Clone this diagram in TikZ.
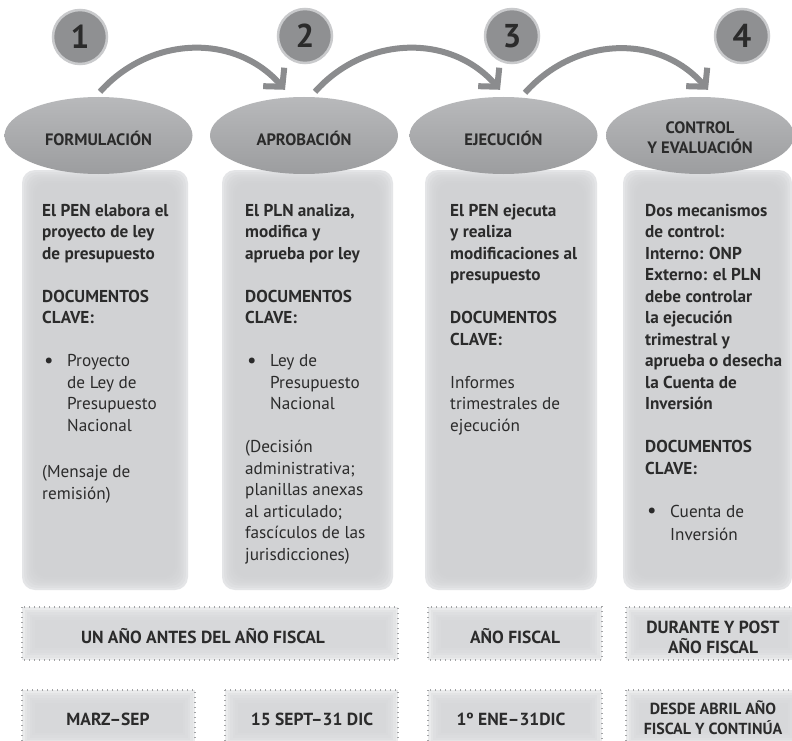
\documentclass[tikz,border=0pt]{standalone}
\usepackage{fontspec}
\setmainfont{PT Sans}
\usetikzlibrary{shapes.geometric,arrows.meta,calc}
\definecolor{txt}{HTML}{2B2B2B}
\definecolor{circfill}{HTML}{8F9092}
\definecolor{circline}{HTML}{C9CACC}
\definecolor{elltop}{HTML}{B8B9BB}
\definecolor{ellbot}{HTML}{9C9D9F}
\definecolor{arrowc}{HTML}{8B8C8E}
\definecolor{boxedge}{HTML}{E4E5E7}
\definecolor{boxcore}{HTML}{CFD0D2}
\definecolor{tagedge}{HTML}{EAEBEC}
\definecolor{tagcore}{HTML}{D5D6D8}
\definecolor{dotc}{HTML}{A3A4A6}

\newcommand\softrect[6]{% x1 y1 x2 y2 edge core
  \fill[#5,rounded corners=13pt] (#1,#2) rectangle (#3,#4);
  \foreach \k in {1,...,6}{\fill[#6,opacity=0.28,rounded corners=12pt] ({#1+2.2*\k},{#2+2.2*\k}) rectangle ({#3-2.2*\k},{#4-2.2*\k});}
}
\newcommand\softtag[4]{% x1 y1 x2 y2
  \fill[tagedge] (#1,#2) rectangle (#3,#4);
  \foreach \k in {1,...,5}{\fill[tagcore,opacity=0.3] ({#1+2.5*\k},{#2+2.5*\k}) rectangle ({#3-2.5*\k},{#4-2.5*\k});}
  \draw[dotc,line width=1.2pt,dash pattern=on 1.2pt off 3.8pt] (#1,#2) rectangle (#3,#4);
}
\newcommand\bul{\makebox[25pt][l]{\hspace{2pt}{\fontsize{21}{21}\selectfont\raisebox{-0.6pt}{\textbullet}}}}
\newcommand\ind{\hspace*{25pt}}

\tikzset{
  boxtext/.style={anchor=base west, inner sep=0pt, text=txt, font=\fontsize{17.2}{21.5}\selectfont},
  num/.style={circle, minimum size=54pt, inner sep=0pt, fill=circfill, draw=circline, line width=2.5pt, text=txt, font=\fontsize{33}{33}\selectfont\bfseries},
  phase/.style={ellipse, minimum width=188pt, minimum height=77pt, inner sep=0pt, top color=elltop, bottom color=ellbot},
  phasetext/.style={text=txt, font=\fontsize{16.5}{20}\selectfont\bfseries, align=center, inner sep=0pt},
  flow/.style={draw=arrowc, line width=6pt, -{Straight Barb[length=13pt,width=28pt]}},
  tagtext/.style={text=txt, font=\fontsize{17.5}{20}\selectfont\bfseries, align=center, inner sep=0pt},
  tagsmall/.style={text=txt, font=\fontsize{16}{20}\selectfont\bfseries, align=center, inner sep=0pt},
}

\begin{document}
\begin{tikzpicture}[x=1pt,y=-1pt]
\useasboundingbox (0,0) rectangle (792,741);
\clip (0,0) rectangle (792,741);
\fill[white] (0,0) rectangle (792,741);

% number circles
\node[num] (n1) at (80,37) {1};
\node[num] (n2) at (305,36) {2};
\node[num] (n3) at (512,36) {3};
\node[num] (n4) at (742,36) {4};

% content boxes
\softrect{22}{170}{188}{590}{boxedge}{boxcore}
\softrect{222}{170}{393}{590}{boxedge}{boxcore}
\softrect{425}{170}{597}{590}{boxedge}{boxcore}
\softrect{623}{170}{792}{590}{boxedge}{boxcore}

% phase ellipses
\node[phase] (e1) at (98.5,135.5) {};
\node[phase] (e2) at (304,135.5) {};
\node[phase] (e3) at (503.5,135.5) {};
\node[phase] (e4) at (700,135.5) {};
\node[phasetext] (l1) at ($(e1.center)+(0,3)$) {FORMULACIÓN};
\node[phasetext] (l2) at ($(e2.center)+(0,3)$) {APROBACIÓN};
\node[phasetext] (l3) at ($(e3.center)+(0,3)$) {EJECUCIÓN};
\node[phasetext] (l4) at ($(e4.center)+(0,2)$) {CONTROL\\Y EVALUACIÓN};

% arrows
\coordinate (a1s) at ($(e1.north)+(1.5,-5)$);
\coordinate (a1e) at ($(e2.north)+(-19,-7)$);
\coordinate (a2s) at ($(e2.north)+(11,-5)$);
\coordinate (a2e) at ($(e3.north)+(-3.5,-7)$);
\coordinate (a3s) at ($(e3.north)+(21.5,-4)$);
\coordinate (a3e) at ($(e4.north)+(8,-7)$);
\draw[flow] (a1s) .. controls +(50,-56) and +(-50,-57) .. (a1e);
\draw[flow] (a2s) .. controls +(50,-56) and +(-50,-57) .. (a2e);
\draw[flow] (a3s) .. controls +(50,-56) and +(-50,-57) .. (a3e);

% box texts
\node[boxtext] (t1) at (42,216) {\parbox[t]{150pt}{\raggedright
\textbf{El PEN elabora el}\\
\textbf{proyecto de ley}\\
\textbf{de presupuesto}\\[21.5pt]
\textbf{DOCUMENTOS}\\
\textbf{CLAVE:}\\[21.5pt]
\bul Proyecto\\
\ind de Ley de\\
\ind Presupuesto\\
\ind Nacional\\[25pt]
(Mensaje de\\
remisión)}};

\node[boxtext] (t2) at (245,216) {\parbox[t]{150pt}{\raggedright
\textbf{El PLN analiza,}\\
\textbf{modifica y}\\
\textbf{aprueba por ley}\\[21.5pt]
\textbf{DOCUMENTOS}\\
\textbf{CLAVE:}\\[21.5pt]
\bul Ley de\\
\ind Presupuesto\\
\ind Nacional\\[21.5pt]
(Decisión\\
administrativa;\\
planillas anexas\\
al articulado;\\
fascículos de las\\
jurisdicciones)}};

\node[boxtext] (t3) at (450,216) {\parbox[t]{150pt}{\raggedright
\textbf{El PEN ejecuta}\\
\textbf{y realiza}\\
\textbf{modificaciones al}\\
\textbf{presupuesto}\\[21.5pt]
\textbf{DOCUMENTOS}\\
\textbf{CLAVE:}\\[21.5pt]
Informes\\
trimestrales de\\
ejecución}};

\node[boxtext] (t4) at (645,216) {\parbox[t]{150pt}{\raggedright
\textbf{Dos mecanismos}\\
\textbf{de control:}\\
\textbf{Interno: ONP}\\
\textbf{Externo: el PLN}\\
\textbf{debe controlar}\\
\textbf{la ejecución}\\
\textbf{trimestral y}\\
\textbf{aprueba o desecha}\\
\textbf{la Cuenta de}\\
\textbf{Inversión}\\[21.5pt]
\textbf{DOCUMENTOS}\\
\textbf{CLAVE:}\\[21.5pt]
\bul Cuenta de\\[1.5pt]
\ind Inversión}};

% timing tags
\softtag{22}{607}{398}{660}
\softtag{428}{607}{602}{660}
\softtag{626}{607}{800}{660}
\softtag{22}{690}{195}{745}
\softtag{225}{690}{398}{745}
\softtag{428}{690}{602}{745}
\softtag{626}{690}{800}{745}

\node[tagtext] (g1) at (203,636) {UN AÑO ANTES DEL AÑO FISCAL};
\node[tagtext] (g2) at (515,636) {AÑO FISCAL};
\node[tagtext] (g3) at (713,637) {DURANTE Y POST\\AÑO FISCAL};
\node[tagtext] (g4) at (108,719) {MARZ–SEP};
\node[tagtext] (g5) at (312,719) {15 SEPT–31 DIC};
\node[tagtext] (g6) at (511,719) {1º ENE–31DIC};
\node[tagsmall] (g7) at (713,718) {DESDE ABRIL AÑO\\FISCAL Y CONTINÚA};
\end{tikzpicture}
\end{document}
